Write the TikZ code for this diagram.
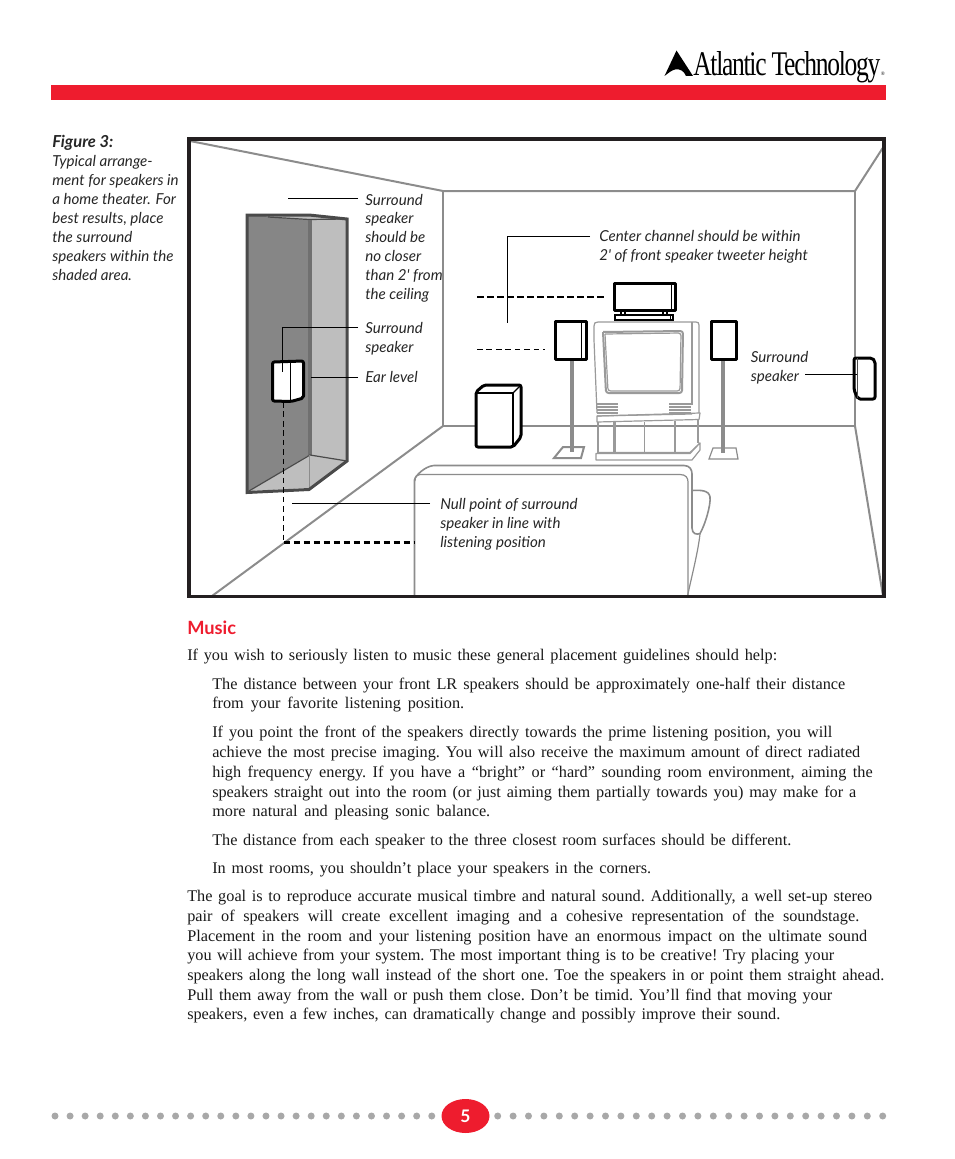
\documentclass[tikz,border=0pt]{standalone}
\usepackage{fontspec}
\setmainfont{Liberation Serif}
\newfontfamily\labelfont{Lato}
\definecolor{brandred}{HTML}{EE1C2E}
\definecolor{wallgray}{HTML}{8C8C8C}
\definecolor{tvgray}{HTML}{9A9A9A}
\definecolor{zonedark}{HTML}{868686}
\definecolor{zonelight}{HTML}{BEBEBE}
\definecolor{zoneedge}{HTML}{4A4A4A}
\definecolor{framecol}{HTML}{231F20}
\definecolor{dotgray}{HTML}{A8A8A8}
\tikzset{
  px/.style={line width=#1*0.75pt},
  wall/.style={draw=wallgray,px=2},
  tv/.style={draw=tvgray,px=1.2,line join=round},
  tvthick/.style={draw=tvgray,px=2,line join=round},
  speaker/.style={draw=black,px=3,fill=white,line join=round},
  thinline/.style={draw=black,px=1},
  leader/.style={draw=black,px=1},
  dashthin/.style={draw=black,px=1.2,dash pattern=on 4.2pt off 2.9pt},
  dashthick/.style={draw=black,px=2.2,dash pattern=on 5pt off 2.5pt},
  bodyline/.style={anchor=base west,inner sep=0pt,font=\fontsize{12.2pt}{14pt}\selectfont\frenchspacing,text=black!90},
  labeltext/.style={anchor=base west,inner sep=0pt,align=left,font=\labelfont\itshape\fontsize{11.35pt}{14.1pt}\selectfont,text=black!85},
}
\newcounter{bl}
\newcommand{\bl}[4]{\stepcounter{bl}\node[bodyline] (body\arabic{bl}) at (#1,#2) {\makebox[\dimexpr #3pt*3/4\relax][s]{#4}};}
\begin{document}
\begin{tikzpicture}[x=0.75pt,y=-0.75pt]
\useasboundingbox (0,0) rectangle (954,1159);
% logo
\fill[black] (676.5,50.5) -- (693,76) -- (686,76) .. controls (684,71) and (680,68.5) .. (675,69.5) .. controls (671,70.5) and (668.5,73) .. (664.5,76) -- cycle;
\node[anchor=base west,inner sep=0pt,font=\fontsize{24pt}{26pt}\selectfont,text=black] (logotext) at (693,76) {\resizebox{140.25pt}{18pt}{\addfontfeature{LetterSpace=-5}Atlantic Technology}};
\node[anchor=base west,inner sep=0pt,font=\fontsize{4pt}{5pt}\selectfont] (logoreg) at (880.5,76) {®};
\fill[brandred] (51,85) rectangle (886,100);
% caption
\node[labeltext,font=\labelfont\itshape\bfseries\fontsize{12.4pt}{14.1pt}\selectfont] (figtitle) at (52,147) {Figure 3:};
\node[labeltext,font=\labelfont\itshape\fontsize{11.35pt}{14.25pt}\selectfont] (figtext) at (52,280.5) {Typical arrange-\\ment for speakers in\\a home theater. For\\best results, place\\the surround\\speakers within the\\shaded area.};
% room
\draw[wall] (190,141) -- (443,191) -- (855,191) -- (884,146);
\draw[wall] (443,191) -- (443,426) -- (855,426) -- (855,191);
\draw[wall] (443,426) -- (212,596);
\draw[wall] (855,426) -- (883,596);
% shaded zone
\fill[zonedark] (247,215) -- (309,219) -- (309,455) -- (247,492) -- cycle;
\fill[zonelight] (311,220) -- (347,218) -- (347,461) -- (311,455) -- cycle;
\fill[zonelight] (250,491) -- (310,455) -- (347,461) -- (309,488) -- cycle;
\fill[zonelight] (268,217) -- (309,215) -- (347,219) -- (311,220) -- cycle;
\draw[draw=zoneedge,px=1.2] (268,217) -- (309,219.5) -- (347,219);
\draw[draw=wallgray!80!black,px=3.5] (310,220) -- (310,455);
\draw[draw=zoneedge,px=1.2] (249,491) -- (310,455) -- (347,461);
\draw[draw=wallgray,px=1] (309,455) -- (309,488);
\draw[draw=zoneedge,px=3,line join=miter] (247,215) -- (309,215) -- (347,219) -- (347,461) -- (309,489.5) -- (247,492.5) -- cycle;
% couch
\draw[wall,px=1.6,fill=white] (414.5,596) -- (414.5,480) .. controls (415,476) and (425,466) .. (434,465.5) -- (684,465.5) .. controls (690,465.5) and (692,470) .. (692,474) -- (692,490.5) .. controls (700,490) and (709,490) .. (710,497) .. controls (711,505) and (705,525) .. (700,533.5) .. controls (697,535) and (692,534) .. (692,528) -- (692,490.5);
\draw[wall,px=1.2] (700,534) .. controls (698,552) and (692,575) .. (687.5,596);
\draw[wall,px=1.2] (415,481) .. controls (415,476) and (417,474.5) .. (420,474.5) -- (680,474.5) .. controls (686,474.5) and (688,478) .. (688,482) -- (688,596);
% TV and stand
\draw[tv,fill=white] (597,413) -- (594,340) -- (594,326) .. controls (594,323) and (595,322) .. (598,322) -- (696,322) .. controls (698,322) and (699,323) .. (699,325) -- (699,413);
\draw[tv] (692,322) -- (692,405);
\draw[tvthick,rounded corners=2pt] (603,332) -- (683,331) -- (682,393) -- (606,393) -- (603,332);
\draw[tv,rounded corners=2pt] (605,334) -- (681,333) -- (680,391) -- (608,391) -- (605,334);
\foreach \yy in {404,407,410,413}{
  \draw[tv] (597,\yy) -- (618,\yy);
  \draw[tv] (669,\yy) -- (691,\yy);
}
\draw[tv,fill=white] (597,416) -- (700,413) -- (699,419.5) -- (597,422) -- cycle;
\draw[tv] (597,416) -- (692,414);
\draw[tv] (598,422) -- (598,453);
\draw[tv] (698,420) -- (698,443);
\draw[tvthick] (613.5,422) -- (613.5,452);
\draw[tv] (615.5,422) -- (615.5,452);
\draw[tv] (644.5,422) -- (644.5,452);
\draw[tvthick] (675,421) -- (675,452);
\draw[tv] (598,452.5) -- (690,452.5) -- (700,443);
\draw[tv,fill=white] (596,453.5) -- (690,453.5) -- (700,443) -- (700,450) -- (692,460) -- (596,460) -- cycle;
% speakers on stands
\draw[draw=wallgray,px=2] (554,458) -- (563,447) -- (584,447) -- (581,458) -- cycle;
\draw[draw=wallgray,px=1.2] (709,459) -- (713,448) -- (736,448) -- (738,459) -- cycle;
\draw[draw=wallgray,px=4] (571.7,359) -- (571.7,452);
\draw[draw=wallgray,px=4] (723,359) -- (723,453);
\draw[speaker] (555.5,321) rectangle (586,359);
\draw[thinline] (581,321) -- (581,359);
\draw[speaker] (711,321) rectangle (736,359);
% center speaker
\draw[draw=black,px=1.6,fill=white] (621,310) rectangle (625,315);
\draw[draw=black,px=1.6,fill=white] (663,310) rectangle (667,315);
\draw[draw=black,px=2.2,fill=white] (615,315) rectangle (673,320);
\draw[thinline] (670,315) -- (670,320);
\draw[speaker] (614.5,283.5) rectangle (675,310);
\draw[thinline] (671,283.5) -- (671,310);
% subwoofer
\draw[speaker,rounded corners=1.5pt] (476,392) -- (484,385) -- (521,385) -- (521,437) -- (513,447) -- (476,447) -- cycle;
\draw[draw=black,px=1.2] (476,393) -- (513,393) -- (513,447);
\draw[draw=black,px=1.2] (513,393) -- (521,385);
% right wall speaker
\draw[speaker,rounded corners=1.5pt] (854,358) -- (872,358) -- (875,361) -- (875,399) -- (858,399) -- (854,390) -- cycle;
\draw[thinline,draw=black!70] (857,358) -- (857,398);
% left wall speaker
\draw[speaker,rounded corners=1.5pt] (272.5,362) -- (303.5,361) -- (303.5,398) -- (291,401.5) -- (272.5,401) -- cycle;
\draw[thinline] (290.7,361) -- (290.7,401);
% leaders and labels
\node[labeltext] (lbltop) at (365,299) {Surround\\speaker\\should be\\no closer\\than 2' from\\the ceiling};
\node[labeltext] (lblsur) at (365,352.5) {Surround\\speaker};
\node[labeltext] (lblear) at (365,382.5) {Ear level};
\node[labeltext] (lblcenter) at (599,260) {Center channel should be within\\2' of front speaker tweeter height};
\node[labeltext] (lblright) at (750.5,381) {Surround\\speaker};
\node[labeltext] (lblnull) at (440,547) {Null point of surround\\speaker in line with\\listening position};
\coordinate (topend) at (288,198);
\coordinate (topstart) at (358,198);
\draw[leader] (topstart) -- (topend);
\coordinate (surstart) at (358,327);
\coordinate (surelbow) at (282.3,327);
\coordinate (surend) at (282.3,372);
\draw[leader] (surstart) -- (surelbow) -- (surend);
\coordinate (earstart) at (358,377.5);
\coordinate (earend) at (311,377.5);
\draw[leader] (earstart) -- (earend);
\coordinate (censtart) at (590,236);
\coordinate (cenelbow) at (507.5,236);
\coordinate (cenend) at (507.5,323);
\draw[leader] (censtart) -- (cenelbow) -- (cenend);
\coordinate (rstart) at (805,374);
\coordinate (rend) at (857,374);
\draw[leader] (rstart) -- (rend);
\coordinate (nullstart) at (430,503);
\coordinate (nullend) at (292,503);
\draw[leader] (nullstart) -- (nullend);
\coordinate (dtop1) at (477,296.7);
\coordinate (dtop2) at (604,296.7);
\draw[dashthick] (dtop1) -- (dtop2);
\coordinate (dlow1) at (477,349.3);
\coordinate (dlow2) at (545,349.3);
\draw[dashthin] (dlow1) -- (dlow2);
\coordinate (nv1) at (283.5,402);
\coordinate (nv2) at (283.5,542.5);
\coordinate (nh2) at (414,542.5);
\draw[dashthin] (nv1) -- (nv2);
\draw[dashthick] (nv2) -- (nh2);
% frame
\draw[draw=framecol,px=3.6] (188.8,138.8) rectangle (884.2,596.6);
% music
\node[anchor=base west,inner sep=0pt,text=brandred,font=\labelfont\bfseries\fontsize{13.7pt}{15pt}\selectfont] (music) at (187,634) {Music};
\bl{187}{660}{590}{If you wish to seriously listen to music these general placement guidelines should help:}
\bl{212}{689}{633}{The distance between your front LR speakers should be approximately one-half their distance}
\bl{212}{708.5}{252}{from your favorite listening position.}
\bl{212}{737.5}{620}{If you point the front of the speakers directly towards the prime listening position, you will}
\bl{212}{757}{648}{achieve the most precise imaging. You will also receive the maximum amount of direct radiated}
\bl{212}{777}{660.5}{high frequency energy. If you have a “bright” or “hard” sounding room environment, aiming the}
\bl{212}{797}{644}{speakers straight out into the room (or just aiming them partially towards you) may make for a}
\bl{212}{816.5}{278}{more natural and pleasing sonic balance.}
\bl{212}{845.5}{579}{The distance from each speaker to the three closest room surfaces should be different.}
\bl{212}{873.5}{439}{In most rooms, you shouldn’t place your speakers in the corners.}
\bl{187}{901.5}{685}{The goal is to reproduce accurate musical timbre and natural sound. Additionally, a well set-up stereo}
\bl{187}{921}{672}{pair of speakers will create excellent imaging and a cohesive representation of the soundstage.}
\bl{187}{941}{680}{Placement in the room and your listening position have an enormous impact on the ultimate sound}
\bl{187}{960.5}{647}{you will achieve from your system. The most important thing is to be creative! Try placing your}
\bl{187}{980}{697}{speakers along the long wall instead of the short one. Toe the speakers in or point them straight ahead.}
\bl{187}{1000}{645}{Pull them away from the wall or push them close. Don’t be timid. You’ll find that moving your}
\bl{187}{1019.5}{593}{speakers, even a few inches, can dramatically change and possibly improve their sound.}
% footer
\foreach \i in {0,...,25}{
  \fill[dotgray] ({55+\i*15.07},1116) circle[radius=3.5];
  \fill[dotgray] ({497.7+\i*15.4},1116) circle[radius=3.5];
}
\fill[brandred] (465.5,1116) ellipse[x radius=24,y radius=17];
\node[inner sep=0pt,text=white,font=\labelfont\bfseries\fontsize{13pt}{14pt}\selectfont] (pagenum) at (465.5,1116) {5};
\end{tikzpicture}
\end{document}
